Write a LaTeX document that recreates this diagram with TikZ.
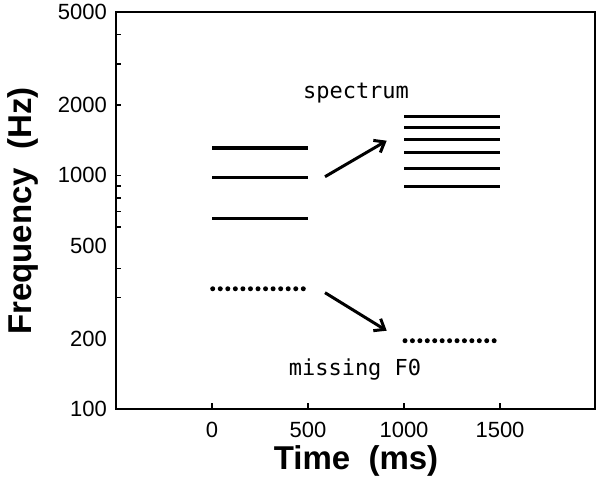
\documentclass[tikz,border=0pt]{standalone}
\usepackage{fontspec}
\setmainfont{Liberation Sans}
\newfontfamily\monofont{DejaVu Sans Mono}
\usepackage{tikz}
\usetikzlibrary{arrows.meta}

\begin{document}
\begin{tikzpicture}[x=1pt, y=1pt,
    declare function={fy(\f)=73+233.7*log10(\f/100); tx(\t)=212+0.192*\t;},
    frame/.style={line width=1.6pt},
    tick/.style={line width=1.4pt},
    harm/.style={line width=3.2pt},
    fzero/.style={line width=5pt, line cap=round, dash pattern=on 0pt off #1},
    moveto/.style={line width=3pt, -{Straight Barb[length=9pt, width=14pt, line width=3pt]}},
    ticklabel/.style={font=\fontsize{22}{24}\selectfont, inner sep=0pt},
    axislabel/.style={font=\fontsize{33}{36}\selectfont\bfseries, inner sep=0pt},
    note/.style={font=\fontsize{22}{24}\selectfont\monofont, inner sep=0pt}]
    \useasboundingbox (0,0) rectangle (601,482);

    % axes box
    \draw[frame] (116,73) rectangle (595,470);
    \foreach \f in {4000,3000,2000,1000,900,800,700,600,400,300}
        \draw[tick] (116,{fy(\f)}) -- ++(5,0);
    \foreach \t in {0,500,1000,1500}
        \draw[tick] ({tx(\t)},73) -- ++(0,6);

    % tick labels
    \foreach \f in {5000,2000,1000,500,200,100}
        \node[ticklabel, anchor=east] (f\f) at (107,{fy(\f)}) {\f};
    \foreach \t in {0,500,1000,1500}
        \node[ticklabel] (t\t) at ({tx(\t)},52) {\t};

    \node[axislabel] (xlab) at (356,21) {Time\ \ (ms)};
    \node[axislabel, rotate=90] (ylab) at (23,271) {Frequency\ \ (Hz)};

    % before: harmonics 2-4 of 327 Hz
    \foreach \h in {2,3,4}
        \draw[harm] ({tx(0)},{fy(327*\h)}) -- ({tx(500)},{fy(327*\h)});
    \draw[fzero=7.55pt] (212.7,{fy(327)}) -- (303.6,{fy(327)});

    % after: harmonics 5-10 of 178.5 Hz
    \foreach \h in {5,...,10}
        \draw[harm] ({tx(1000)},{fy(178.5*\h)}) -- ({tx(1500)},{fy(178.5*\h)});
    \draw[fzero=7.43pt] (405,{fy(196)}) -- (494.4,{fy(196)});

    \coordinate (spec a) at (325,305.3);
    \coordinate (spec b) at (386.7,341.3);
    \coordinate (fzero a) at (325,189.3);
    \coordinate (fzero b) at (386.7,151.3);
    \draw[moveto] (spec a) -- (spec b);
    \draw[moveto] (fzero a) -- (fzero b);

    \node[note] (spectrum) at (356,389) {spectrum};
    \node[note] (missing) at (355,112) {missing F0};
\end{tikzpicture}
\end{document}
